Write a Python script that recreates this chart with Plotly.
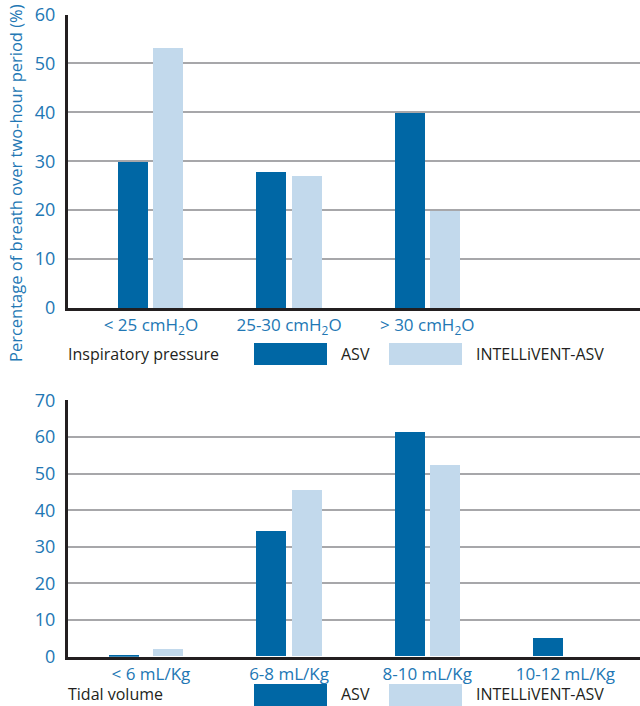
import plotly.graph_objects as go

# ---- data ----
pressure_labels = ["< 25 cmH<sub>2</sub>O", "25-30 cmH<sub>2</sub>O", "> 30 cmH<sub>2</sub>O"]
pressure_asv = [30, 28, 40]
pressure_intellivent = [53.3, 27, 20]

volume_labels = ["< 6 mL/Kg", "6-8 mL/Kg", "8-10 mL/Kg", "10-12 mL/Kg"]
volume_asv = [0.3, 34.3, 61.2, 5.1]
volume_intellivent = [2, 45.5, 52.2, 0]

series_names = ["ASV", "INTELLiVENT-ASV"]
row_titles = ["Inspiratory pressure", "Tidal volume"]
y_title = "Percentage of breath over two-hour period (%)"

# ---- style ----
DARK = "#0067a5"
LIGHT = "#c2d9ec"
GRID = "#a7a7aa"
AXIS = "#231f20"
TICK = "#2277b4"
FONT = "Open Sans"
W, H = 640, 706

def py(px):
    return 1 - px / H

def pxx(px):
    return px / W

fig = go.Figure()

bw = 0.217
off_a = -0.236
off_b = 0.018
vol_off_a = [-0.303, off_a, off_a, off_a]

fig.add_trace(go.Bar(x=list(range(len(pressure_labels))), y=pressure_asv, width=bw, offset=off_a,
                     marker=dict(color=DARK, line_width=0), xaxis="x", yaxis="y", name=series_names[0]))
fig.add_trace(go.Bar(x=list(range(len(pressure_labels))), y=pressure_intellivent, width=bw, offset=off_b,
                     marker=dict(color=LIGHT, line_width=0), xaxis="x", yaxis="y", name=series_names[1]))
fig.add_trace(go.Bar(x=list(range(len(volume_labels))), y=volume_asv, width=bw, offset=vol_off_a,
                     marker=dict(color=DARK, line_width=0), xaxis="x2", yaxis="y2", name=series_names[0]))
fig.add_trace(go.Bar(x=list(range(len(volume_labels))), y=volume_intellivent, width=bw, offset=off_b,
                     marker=dict(color=LIGHT, line_width=0), xaxis="x2", yaxis="y2", name=series_names[1]))

xr = [-0.6, 3.54]
xdom = [pxx(68), 1.0]

common_x = dict(range=xr, domain=xdom, showgrid=False, zeroline=False, showline=True, automargin=False,
                linecolor=AXIS, linewidth=3, ticks="", tickfont=dict(family=FONT, size=17, color=TICK),
                fixedrange=True)
common_y = dict(showgrid=True, gridcolor=GRID, gridwidth=2, zeroline=False, showline=True, automargin=False,
                linecolor=AXIS, linewidth=3, ticks="", tickfont=dict(family=FONT, size=18, color=TICK),
                ticklabelstandoff=6, fixedrange=True)

fig.update_layout(
    width=W, height=H, margin=dict(l=0, r=0, t=0, b=0, autoexpand=False),
    paper_bgcolor="white", plot_bgcolor="white", showlegend=False, bargap=0,
    xaxis=dict(common_x, anchor="y", tickvals=list(range(len(pressure_labels))), ticktext=pressure_labels),
    yaxis=dict(common_y, anchor="x", domain=[py(308), py(14.5)], range=[0, 60], dtick=10),
    xaxis2=dict(common_x, anchor="y2", tickvals=list(range(len(volume_labels))), ticktext=volume_labels),
    yaxis2=dict(common_y, anchor="x2", domain=[py(656.7), py(400.3)], range=[0, 70], dtick=10),
)

# y axis title
fig.add_annotation(text=y_title, x=pxx(15), y=py(183), xref="paper", yref="paper",
                   textangle=-90, showarrow=False, font=dict(family=FONT, size=16.5, color=TICK),
                   xanchor="center", yanchor="middle")

# legend rows
for title, yc, by in zip(row_titles, [354, 694], [354, 695]):
    fig.add_annotation(text=title, x=pxx(66), y=py(yc), xref="paper", yref="paper", showarrow=False,
                       xanchor="left", yanchor="middle", font=dict(family=FONT, size=16, color=AXIS))
    fig.add_shape(type="rect", xref="paper", yref="paper", x0=pxx(254), x1=pxx(327),
                  y0=py(by + 11), y1=py(by - 11), fillcolor=DARK, line_width=0)
    fig.add_shape(type="rect", xref="paper", yref="paper", x0=pxx(389), x1=pxx(462),
                  y0=py(by + 11), y1=py(by - 11), fillcolor=LIGHT, line_width=0)
    fig.add_annotation(text=series_names[0], x=pxx(339), y=py(yc), xref="paper", yref="paper", showarrow=False,
                       xanchor="left", yanchor="middle", font=dict(family=FONT, size=16, color=AXIS))
    fig.add_annotation(text=series_names[1], x=pxx(474), y=py(yc), xref="paper", yref="paper", showarrow=False,
                       xanchor="left", yanchor="middle", font=dict(family=FONT, size=16, color=AXIS))

fig.write_html("out.html")
